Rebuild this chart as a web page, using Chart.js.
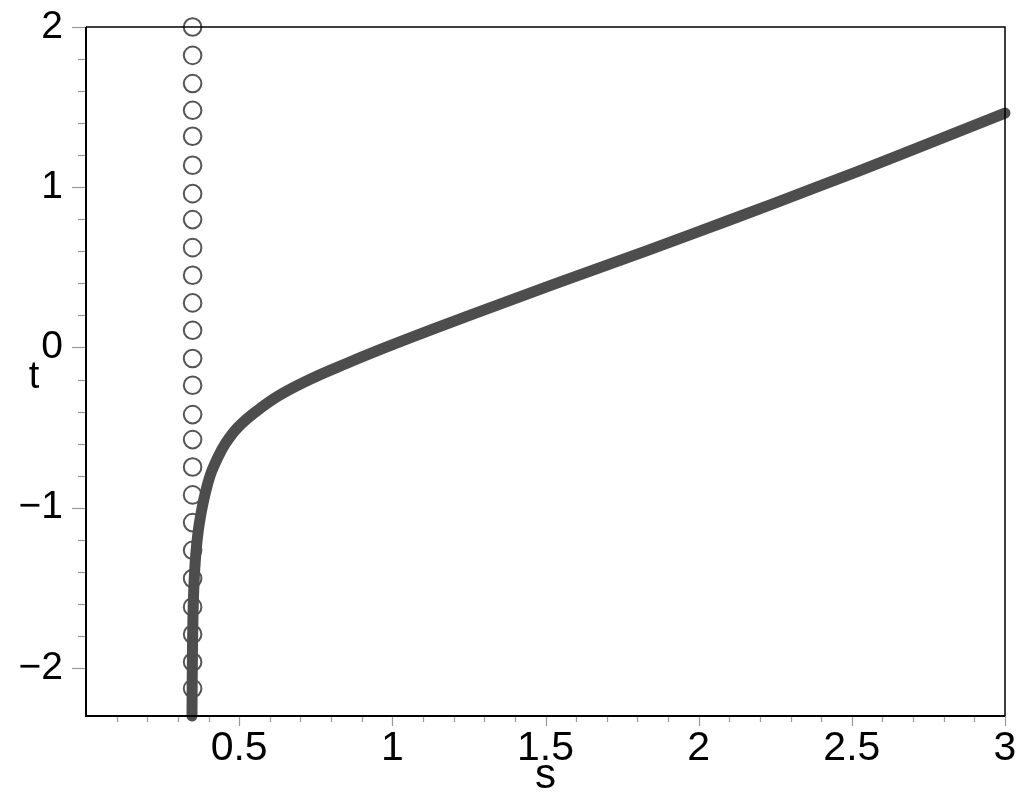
<!DOCTYPE html>
<html>
<head>
<meta charset="utf-8">
<script src="https://cdn.jsdelivr.net/npm/chart.js@4/dist/chart.umd.min.js"></script>
<style>
  html, body { margin: 0; padding: 0; background: #fff; }
  #wrap { width: 1024px; height: 809px; }
</style>
</head>
<body>
<div id="wrap"><canvas id="plot"></canvas></div>
<script>
// curve t(s)
const curveS = [0.346, 0.347, 0.349, 0.352, 0.358, 0.366, 0.376, 0.388, 0.405, 0.427, 0.455, 0.495, 0.555, 0.63, 0.73, 0.85, 0.978, 1.113, 1.252, 1.535, 1.825, 2.108, 2.385, 2.655, 3.0];
const curveT = [-2.3, -2.0, -1.7, -1.5, -1.3, -1.15, -1.03, -0.92, -0.8, -0.7, -0.6, -0.5, -0.4, -0.3, -0.2, -0.1, 0.0, 0.1, 0.2, 0.4, 0.6, 0.8, 1.0, 1.2, 1.463];

// circles on the vertical line s = 0.348
const circleS = 0.348;
const circleT = [2.0, 1.823, 1.647, 1.48, 1.318, 1.137, 0.96, 0.798, 0.623, 0.451, 0.278, 0.107, -0.069, -0.236, -0.419, -0.575, -0.746, -0.92, -1.093, -1.266, -1.442, -1.619, -1.79, -1.963, -2.129];

const xTickLabels = [0.5, 1, 1.5, 2, 2.5, 3];
const yTickLabels = [-2, -1, 0, 1, 2];
const xTitle = 's';
const yTitle = 't';

const near = (a, b) => Math.abs(a - b) < 1e-6;

// axes box, major/minor tick marks and the two axis letters
const axesPlugin = {
    id: 'axesBox',
    afterDraw(chart) {
        const c = chart.ctx;
        const a = chart.chartArea;
        const xs = chart.scales.x, ys = chart.scales.y;
        c.save();
        c.strokeStyle = '#999';
        c.lineWidth = 1.2;
        xs.ticks.forEach(t => {
            const v = t.value;
            if (v <= xs.min + 1e-6) return;
            const major = xTickLabels.some(m => near(m, v));
            const px = Math.round(xs.getPixelForValue(v)) + 0.5;
            c.beginPath();
            c.moveTo(px, a.bottom);
            c.lineTo(px, a.bottom + (major ? 10 : 6));
            c.stroke();
        });
        ys.ticks.forEach(t => {
            const v = t.value;
            if (Math.abs(v * 5 - Math.round(v * 5)) > 1e-6) return;
            const major = yTickLabels.some(m => near(m, v));
            const py = Math.round(ys.getPixelForValue(v)) + 0.5;
            c.beginPath();
            c.moveTo(a.left, py);
            c.lineTo(a.left - (major ? 14 : 8), py);
            c.stroke();
        });

        c.strokeStyle = '#000';
        c.lineWidth = 2;
        c.beginPath();
        c.moveTo(a.left, a.top);
        c.lineTo(a.left, a.bottom);
        c.lineTo(a.right, a.bottom);
        c.stroke();
        c.lineWidth = 1.5;
        c.beginPath();
        c.moveTo(a.left, a.top);
        c.lineTo(a.right, a.top);
        c.lineTo(a.right, a.bottom);
        c.stroke();

        c.fillStyle = '#000';
        c.textAlign = 'center';
        c.textBaseline = 'alphabetic';
        c.font = '38px "Liberation Sans", Arial, sans-serif';
        c.fillText(yTitle, 34, 388);
        c.font = '42px "Liberation Sans", Arial, sans-serif';
        c.fillText(xTitle, (a.left + a.right) / 2, 788);
        c.restore();
    }
};

const ctx = document.getElementById('plot').getContext('2d');

new Chart(ctx, {
    type: 'scatter',
    data: {
        datasets: [
            {
                label: 'curve',
                data: curveS.map((s, i) => ({ x: s, y: curveT[i] })),
                showLine: true,
                borderColor: '#4d4d4d',
                borderWidth: 11,
                borderCapStyle: 'round',
                borderJoinStyle: 'round',
                tension: 0.4,
                pointRadius: 0,
                clip: 8,
                order: 0
            },
            {
                label: 'circles',
                data: circleT.map(t => ({ x: circleS, y: t })),
                showLine: false,
                pointStyle: 'circle',
                pointRadius: 8.8,
                pointBorderWidth: 2,
                pointBorderColor: '#555',
                pointBackgroundColor: 'rgba(0,0,0,0)',
                clip: 12,
                order: 1
            }
        ]
    },
    options: {
        responsive: true,
        maintainAspectRatio: false,
        animation: false,
        events: [],
        layout: { padding: { left: 0, right: 19, top: 27, bottom: 0 } },
        plugins: {
            legend: { display: false },
            tooltip: { enabled: false }
        },
        scales: {
            x: {
                type: 'linear',
                min: 0,
                max: 3,
                afterFit: scale => {
                    scale.height = 93;
                    scale.paddingLeft = 0;
                    scale.paddingRight = 0;
                },
                border: { display: false },
                grid: { display: false, drawTicks: false },
                ticks: {
                    stepSize: 0.1,
                    autoSkip: false,
                    maxRotation: 0,
                    padding: 8,
                    color: '#000',
                    font: { family: '"Liberation Sans", Arial, sans-serif', size: 41 },
                    callback: v => xTickLabels.some(m => near(m, v)) ? String(Math.round(v * 10) / 10) : ''
                }
            },
            y: {
                type: 'linear',
                min: -2.3,
                max: 2,
                afterFit: scale => {
                    scale.width = 86;
                    scale.paddingTop = 0;
                    scale.paddingBottom = 0;
                },
                border: { display: false },
                grid: { display: false, drawTicks: false },
                ticks: {
                    stepSize: 0.2,
                    autoSkip: false,
                    padding: 23,
                    color: '#000',
                    font: { family: '"Liberation Sans", Arial, sans-serif', size: 39 },
                    callback: v => {
                        const m = yTickLabels.find(k => near(k, v));
                        if (m === undefined) return '';
                        return m < 0 ? '\u2212' + Math.abs(m) : String(m);
                    }
                }
            }
        }
    },
    plugins: [axesPlugin]
});
</script>
</body>
</html>
